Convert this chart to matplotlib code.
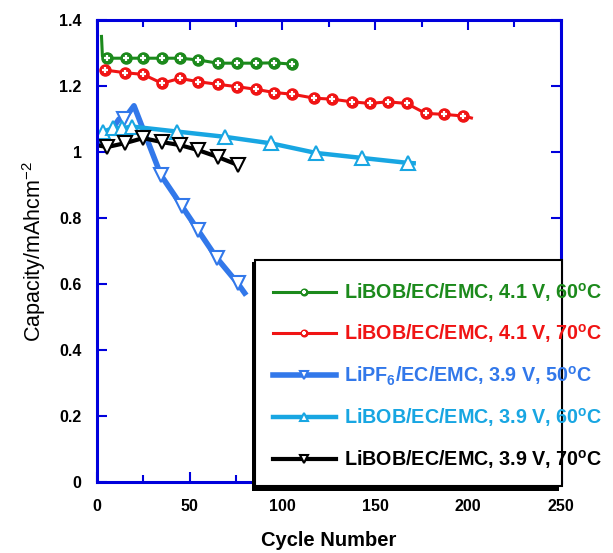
import matplotlib.pyplot as plt
from matplotlib.patches import Rectangle
from matplotlib.legend_handler import HandlerTuple

plt.rcParams['font.family'] = ['Liberation Sans', 'DejaVu Sans']
plt.rcParams['mathtext.fontset'] = 'custom'
plt.rcParams['mathtext.default'] = 'regular'

# LiBOB/EC/EMC, 4.1 V, 60 C
cyc_g = [2.5, 3.0, 5.6, 15.8, 24.9, 35.1, 44.7, 54.4, 65.1, 75.3, 85.5, 95.7, 105.3]
cap_g = [1.35, 1.29, 1.284, 1.284, 1.284, 1.284, 1.284, 1.279, 1.269, 1.269, 1.269, 1.27, 1.266]
mk_g = list(range(2, len(cyc_g)))

# LiBOB/EC/EMC, 4.1 V, 70 C
cyc_r = [4.6, 15.3, 24.9, 35.1, 44.7, 54.4, 65.1, 75.3, 85.5, 95.7, 105.3, 117.1, 126.7,
         137.4, 147.1, 156.7, 166.9, 177.1, 186.8, 197.5, 201.8]
cap_r = [1.248, 1.240, 1.235, 1.208, 1.223, 1.213, 1.205, 1.198, 1.19, 1.18, 1.175, 1.163, 1.16,
         1.152, 1.147, 1.152, 1.147, 1.117, 1.114, 1.109, 1.103]
mk_r = list(range(0, len(cyc_r) - 1))

# LiPF6/EC/EMC, 3.9 V, 50 C
cyc_b = [1.0, 7.0, 12.0, 14.7, 20.0, 34.5, 45.8, 54.4, 64.6, 75.8, 79.6]
cap_b = [1.03, 1.06, 1.10, 1.10, 1.14, 0.93, 0.836, 0.764, 0.679, 0.603, 0.573]
mk_b = [3, 5, 6, 7, 8, 9]

# LiBOB/EC/EMC, 3.9 V, 60 C
cyc_c = [0.5, 3.5, 8.8, 13.7, 19.0, 43.0, 68.9, 94.0, 118.2, 142.8, 167.5, 170.7]
cap_c = [1.05, 1.062, 1.072, 1.072, 1.077, 1.062, 1.046, 1.026, 0.997, 0.982, 0.967, 0.966]
mk_c = list(range(1, len(cyc_c) - 1))

# LiBOB/EC/EMC, 3.9 V, 70 C
cyc_k = [0.5, 5.6, 15.3, 24.9, 35.1, 44.7, 54.4, 65.1, 75.8]
cap_k = [1.02, 1.015, 1.027, 1.042, 1.03, 1.021, 1.006, 0.985, 0.961]
mk_k = list(range(1, len(cyc_k)))

labels = ['LiBOB/EC/EMC, 4.1 V, 60$^o$C',
          'LiBOB/EC/EMC, 4.1 V, 70$^o$C',
          'LiPF$_6$/EC/EMC, 3.9 V, 50$^o$C',
          'LiBOB/EC/EMC, 3.9 V, 60$^o$C',
          'LiBOB/EC/EMC, 3.9 V, 70$^o$C']
colors = ['#1c8a1c', '#f01414', '#3278ea', '#18a6e2', 'black']

fig = plt.figure(figsize=(6.13, 5.53), dpi=100)
ax = fig.add_axes([0.158, 0.128, 0.757, 0.836])

handles = []
# circle markers with a white cross in the middle
for x, y, mk, c in [(cyc_g, cap_g, mk_g, colors[0]), (cyc_r, cap_r, mk_r, colors[1])]:
    h1, = ax.plot(x, y, '-', color=c, lw=2.2, marker='o', ms=8, markevery=mk,
                  mfc=c, mec=c)
    h2, = ax.plot([x[i] for i in mk], [y[i] for i in mk], ls='none', marker='+',
                  ms=5, mew=1.6, color='white')
    handles.append((h1, h2))

hb, = ax.plot(cyc_b, cap_b, '-', color=colors[2], lw=4, marker='v', ms=10,
              markevery=mk_b, mfc='white', mec=colors[2], mew=1.5)
hc, = ax.plot(cyc_c, cap_c, '-', color=colors[3], lw=3.2, marker='^', ms=10,
              markevery=mk_c, mfc='white', mec=colors[3], mew=1.5)
hk, = ax.plot(cyc_k, cap_k, '-', color=colors[4], lw=3, marker='v', ms=10,
              markevery=mk_k, mfc='white', mec=colors[4], mew=1.5)
handles += [hb, hc, hk]

ax.set_xlim(0, 250)
ax.set_ylim(0, 1.4)
ax.set_xticks([0, 50, 100, 150, 200, 250])
ax.set_xticks([25, 75, 125, 175, 225], minor=True)
ax.set_yticks([0, 0.2, 0.4, 0.6, 0.8, 1, 1.2, 1.4])
ax.set_yticklabels(['0', '0.2', '0.4', '0.6', '0.8', '1', '1.2', '1.4'])
for s in ax.spines.values():
    s.set_color('#0000dc')
    s.set_linewidth(2.2)
ax.tick_params(which='both', direction='in', top=True, right=True, color='#0000dc',
               width=1.5, labelsize=11.5)
ax.tick_params(which='major', length=7)
ax.tick_params(which='minor', length=5)
ax.tick_params(axis='x', pad=12)
ax.tick_params(axis='y', pad=11)
for t in ax.get_xticklabels() + ax.get_yticklabels():
    t.set_fontweight('bold')

ax.set_xlabel('Cycle Number', fontsize=14.5, fontweight='bold', labelpad=12)
ax.set_ylabel('Capacity/mAhcm$^{-2}$', fontsize=15.5, labelpad=8)

# legend box with a drop shadow, reaching past the right edge
W, H = 613, 553
fig.patches.append(Rectangle((252 / W, (553 - 491) / H), 0.5, (491 - 262) / H,
                             transform=fig.transFigure, facecolor='black',
                             edgecolor='none', zorder=3))
fig.patches.append(Rectangle((255 / W, (553 - 486) / H), 0.5, (486 - 260) / H,
                             transform=fig.transFigure, facecolor='white',
                             edgecolor='black', lw=1.5, zorder=4))

leg = fig.legend(handles, labels, loc='upper left',
                 bbox_to_anchor=(255 / W, (553 - 263) / H), frameon=False,
                 handler_map={tuple: HandlerTuple(ndivide=1)},
                 prop={'weight': 'bold', 'size': 14.2}, handlelength=3.2,
                 handletextpad=0.4, labelspacing=0.95, markerscale=0.6)
leg.set_zorder(5)
for t, c in zip(leg.get_texts(), colors):
    t.set_color(c)

fig.savefig('out.png', dpi=100)
